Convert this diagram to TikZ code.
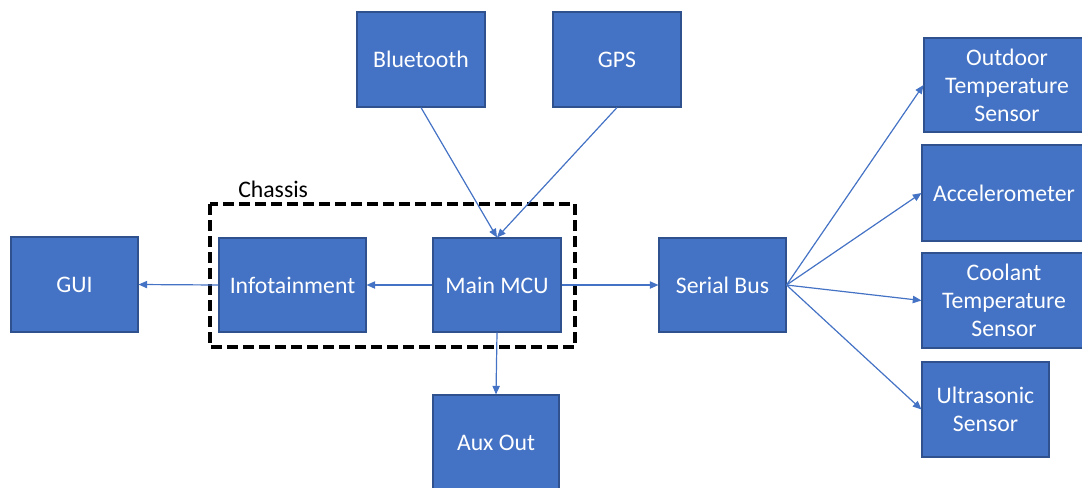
\documentclass[tikz,border=0pt]{standalone}
\usepackage{fontspec}
\setmainfont{Carlito}
\usetikzlibrary{arrows.meta}
\definecolor{boxfill}{HTML}{4472C4}
\definecolor{boxedge}{HTML}{2F528F}
\begin{document}
\begin{tikzpicture}[x=0.75pt,y=-0.75pt,
  block/.style={draw=boxedge, line width=0.8pt, fill=boxfill, text=white,
    font=\fontsize{17.8}{21}\selectfont, align=center, inner sep=0pt},
  size/.style 2 args={minimum width={#1*0.75pt}, minimum height={#2*0.75pt}},
  link/.style={draw=boxfill, line width=0.9pt,
    -{Triangle[length=6.5pt,width=5.5pt]}},
  group/.style={draw=black, line width=2.4pt, dash pattern=on 8pt off 4pt}]
\useasboundingbox (0,0) rectangle (1082,487);
\clip (0,0) rectangle (1082,487);

% chassis enclosure
\draw[group] (210,204) rectangle (575,347);
\node[anchor=base west, inner sep=0pt, font=\fontsize{17.8}{21}\selectfont] (chassislbl) at (238,197) {Chassis};

% blocks
\node[block, size={127}{95}] (gui) at (74.5,284.5) {GUI};
\node[block, size={147}{94}] (info) at (292.5,285) {Infotainment};
\node[block, size={128}{94}] (mcu) at (497,285) {Main MCU};
\node[block, size={128}{95}] (bt) at (421,59.5) {Bluetooth};
\node[block, size={128}{95}] (gps) at (617,59.5) {GPS};
\node[block, size={126}{95}] (aux) at (496,442.5) {Aux Out};
\node[block, size={127}{94}] (bus) at (722.5,285) {Serial Bus};
\node[block, size={166}{94}] (outdoor) at (1007,85) {Outdoor\\Temperature\\Sensor};
\node[block, size={164}{96}] (accel) at (1004,193) {Accelerometer};
\node[block, size={164}{95}] (coolant) at (1004,300.5) {Coolant\\Temperature\\Sensor};
\node[block, size={127}{95}] (ultra) at (985.5,409.5) {Ultrasonic\\Sensor};

% connections
\draw[link] (info.west) -- (gui.east);
\draw[link] (mcu.west) -- (info.east);
\draw[link] (mcu.east) -- (bus.west);
\draw[link] (mcu.south) -- (aux.north);
\draw[link] (bt.south) -- (mcu.north);
\draw[link] (gps.south) -- (mcu.north);
\draw[link] (bus.east) -- (outdoor.west);
\draw[link] (bus.east) -- (accel.west);
\draw[link] (bus.east) -- (coolant.west);
\draw[link] (bus.east) -- (ultra.west);
\end{tikzpicture}
\end{document}
